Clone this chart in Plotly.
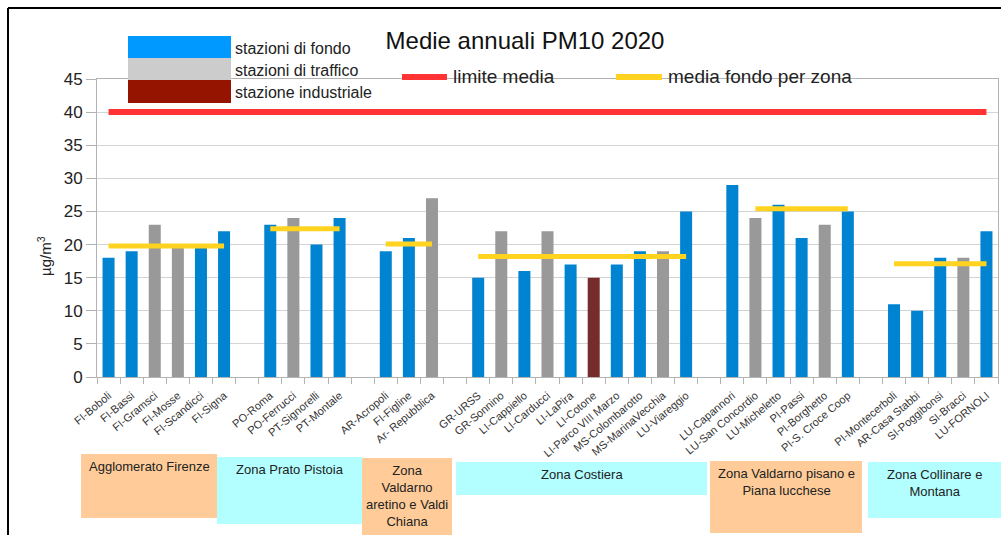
import plotly.graph_objects as go

# stazioni (gli spazi sono le colonne vuote tra le zone)
stazioni = ["FI-Boboli", "FI-Bassi", "FI-Gramsci", "FI-Mosse", "FI-Scandicci", "FI-Signa", " ",
            "PO-Roma", "PO-Ferrucci", "PT-Signorelli", "PT-Montale", "  ",
            "AR-Acropoli", "FI-Figline", "Ar- Repubblica", "   ",
            "GR-URSS", "GR-Sonnino", "LI-Cappiello", "LI-Carducci", "LI-LaPira", "LI-Cotone",
            "LI-Parco VIII Marzo", "MS-Colombarotto", "MS-MarinaVecchia", "LU-Viareggio", "    ",
            "LU-Capannori", "LU-San Concordio", "LU-Micheletto", "PI-Passi", "PI-Borghetto",
            "PI-S. Croce Coop", "     ",
            "PI-Montecerboli", "AR-Casa Stabbi", "SI-Poggibonsi", "SI-Bracci", "LU-FORNOLI"]
valori = [18, 19, 23, 20, 20, 22, None,
          23, 24, 20, 24, None,
          19, 21, 27, None,
          15, 22, 16, 22, 17, 15, 17, 19, 19, 25, None,
          29, 24, 26, 21, 23, 25, None,
          11, 10, 18, 18, 22]
tipo = ["F", "F", "T", "T", "F", "F", "",
        "F", "T", "F", "F", "",
        "F", "F", "T", "",
        "F", "T", "F", "T", "F", "I", "F", "F", "T", "F", "",
        "F", "T", "F", "F", "T", "F", "",
        "F", "F", "F", "T", "F"]

limite = 40
# media fondo per zona: (prima stazione, ultima stazione, valore)
zona_inizio = ["FI-Boboli", "PO-Roma", "AR-Acropoli", "GR-URSS", "LU-San Concordio", "PI-Montecerboli"]
zona_fine = ["FI-Signa", "PT-Montale", "Ar- Repubblica", "LU-Viareggio", "PI-S. Croce Coop", "LU-FORNOLI"]
zona_media = [19.8, 22.4, 20.1, 18.2, 25.4, 17.1]

zone_nomi = ["Agglomerato Firenze", "Zona Prato Pistoia", "Zona<br>Valdarno<br>aretino e Valdi<br>Chiana",
             "Zona Costiera", "Zona Valdarno pisano e<br>Piana lucchese", "Zona Collinare e<br>Montana"]

colori_barre = {"F": "#0084D1", "T": "#999999", "I": "#772C2C", "": "#ffffff"}

FONT = "Liberation Sans, Arial, sans-serif"
W, H = 1001, 535
L, R, T, B = 97, 3, 79, 158
PW, PH = W - L - R, H - T - B


def px(x):
    return (x - L) / PW


def py(y):
    return (H - B - y) / PH


fig = go.Figure()

fig.add_trace(go.Bar(
    x=stazioni, y=valori,
    marker=dict(color=[colori_barre[t] for t in tipo], line=dict(width=0)),
    showlegend=False
))

fig.add_trace(go.Scatter(
    x=[stazioni[0], stazioni[-1]], y=[limite, limite],
    mode="lines", line=dict(color="#FF3333", width=6), showlegend=False
))

for a, b, m in zip(zona_inizio, zona_fine, zona_media):
    fig.add_trace(go.Scatter(
        x=[a, b], y=[m, m],
        mode="lines", line=dict(color="#FFD320", width=5), showlegend=False
    ))

shapes = []
annotations = []

# cornice nera
shapes.append(dict(type="line", xref="paper", yref="paper", x0=px(8), x1=px(1001), y0=py(8), y1=py(8),
                   line=dict(color="black", width=2)))
shapes.append(dict(type="line", xref="paper", yref="paper", x0=px(8), x1=px(8), y0=py(8), y1=py(535),
                   line=dict(color="black", width=2)))

# legenda riquadri
leg_box = [("#0099FF", "stazioni di fondo", 36, 58),
           ("#CCCCCC", "stazioni di traffico", 58, 80),
           ("#941400", "stazione industriale", 80, 103)]
for col, txt, y0, y1 in leg_box:
    shapes.append(dict(type="rect", xref="paper", yref="paper", x0=px(128), x1=px(231), y0=py(y1), y1=py(y0),
                       fillcolor=col, line=dict(width=0), layer="above"))
    annotations.append(dict(xref="paper", yref="paper", x=px(233), y=py((y0 + y1) / 2 + 1), text=txt,
                            showarrow=False, xanchor="left", yanchor="middle",
                            font=dict(family=FONT, size=16, color="#222222")))

# legenda linee
for col, txt, x0, x1, xt in [("#FF3333", "limite media", 402, 447, 451),
                             ("#FFD320", "media fondo per zona", 616, 662, 666)]:
    shapes.append(dict(type="line", xref="paper", yref="paper", x0=px(x0), x1=px(x1), y0=py(77), y1=py(77),
                       line=dict(color=col, width=6), layer="above"))
    annotations.append(dict(xref="paper", yref="paper", x=px(xt), y=py(77), text=txt,
                            showarrow=False, xanchor="left", yanchor="middle",
                            font=dict(family=FONT, size=19, color="#222222")))

# riquadri delle zone
zone_box = [("#FFCC99", 81, 217, 454, 518),
            ("#B3FFFF", 217, 362, 457, 524),
            ("#FFCC99", 362, 452, 458, 535),
            ("#B3FFFF", 456, 707, 462, 495),
            ("#FFCC99", 710, 862, 461, 533),
            ("#B3FFFF", 868, 1001, 462, 518)]
for nome, (col, x0, x1, y0, y1) in zip(zone_nomi, zone_box):
    shapes.append(dict(type="rect", xref="paper", yref="paper", x0=px(x0), x1=px(x1), y0=py(y1), y1=py(y0),
                       fillcolor=col, line=dict(width=0)))
    annotations.append(dict(xref="paper", yref="paper", x=px((x0 + x1) / 2), y=py(y0 + 3), text=nome,
                            showarrow=False, xanchor="center", yanchor="top", align="center",
                            font=dict(family=FONT, size=13, color="#222222")))

# titolo asse y
annotations.append(dict(xref="paper", yref="paper", x=px(44), y=py(256), text="µg/m<sup>3</sup>",
                        showarrow=False, textangle=-90, xanchor="center", yanchor="middle",
                        font=dict(family=FONT, size=15, color="#222222")))

fig.update_layout(
    width=W, height=H,
    margin=dict(l=L, r=R, t=T, b=B),
    paper_bgcolor="white", plot_bgcolor="white",
    bargap=0.48,
    title=dict(text="Medie annuali PM10 2020", x=px(525), xanchor="center", xref="paper",
               y=1 - 41 / H, yanchor="middle",
               font=dict(family=FONT, size=24, color="#111111")),
    shapes=shapes,
    annotations=annotations,
    xaxis=dict(
        type="category", range=[-0.5, len(stazioni) - 0.5],
        tickson="boundaries", ticks="outside", ticklen=6, tickcolor="#b3b3b3",
        showline=True, linecolor="#b3b3b3", mirror=True, showgrid=False,
        ticklabelstandoff=7,
        tickangle=-40, tickfont=dict(family=FONT, size=11, color="#333333")
    ),
    yaxis=dict(
        range=[0, 45], dtick=5, ticks="outside", ticklen=10, tickcolor="#b3b3b3",
        showline=True, linecolor="#b3b3b3", mirror=True,
        showgrid=True, gridcolor="#d4d4d4", zeroline=False,
        tickfont=dict(family=FONT, size=17, color="#222222")
    )
)

# niente margine né barre di scorrimento nella pagina
fig.write_html("out.html", config={"displayModeBar": False},
               post_script="document.body.style.margin='0';"
                           "document.body.style.overflow='hidden';"
                           "document.documentElement.style.overflow='hidden';")
